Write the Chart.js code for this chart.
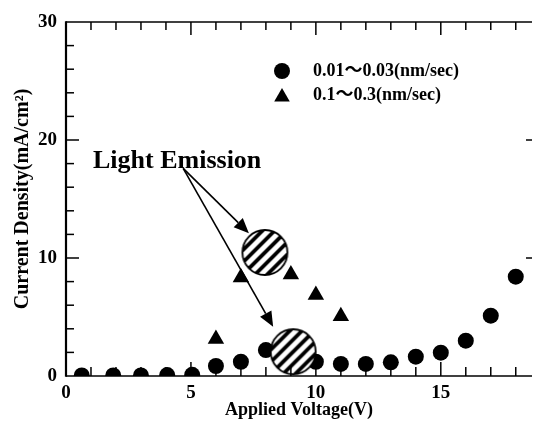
<!DOCTYPE html>
<html><head><meta charset="utf-8">
<script src="https://cdn.jsdelivr.net/npm/chart.js@4/dist/chart.umd.min.js"></script>
<style>html,body{margin:0;padding:0;background:#fff;overflow:hidden}#wrap{width:533px;height:423px}</style>
</head><body><div id="wrap"><canvas id="c" width="533" height="423"></canvas></div>
<script>
// ---- data ----
const voltageLow = [0.63, 1.89, 3.0, 4.05, 5.05, 6, 7, 8, 9, 10, 11, 12, 13, 14, 15, 16, 17, 18];
const densityLow = [0.05, 0.05, 0.04, 0.08, 0.1, 0.85, 1.21, 2.2, 1.6, 1.21, 1.02, 1.02, 1.16, 1.64, 1.98, 2.99, 5.11, 8.42];
const voltageHigh = [6, 7, 8, 9, 10, 11];
const densityHigh = [3.13, 8.34, 10.0, 8.6, 6.86, 5.06];
const emissionVoltage = [7.96, 9.09];
const emissionDensity = [10.47, 2.06];
const seriesLabels = ['0.01\uFF5E0.03(nm/sec)', '0.1\uFF5E0.3(nm/sec)'];
const xTickValues = [0, 5, 10, 15];
const yTickValues = [0, 10, 20, 30];
const xTitle = 'Applied Voltage(V)';
const yTitle = 'Current Density(mA/cm\u00B2)';
const annotationText = 'Light Emission';
const annotationTextAt = {x: 1.08, y: 17.6};
const arrowFrom = {x: 4.69, y: 17.6};
const arrowTips = [{x: 7.32, y: 12.1}, {x: 8.29, y: 4.18}];

const SERIF = "'Liberation Serif','DejaVu Serif','Noto Sans CJK JP',serif";

function makeHatch(r) {
  const s = Math.ceil(2 * r + 4);
  const c = document.createElement('canvas');
  c.width = s; c.height = s;
  const g = c.getContext('2d');
  const m = s / 2;
  g.beginPath(); g.arc(m, m, r, 0, Math.PI * 2); g.fillStyle = '#fff'; g.fill();
  g.save(); g.clip();
  g.strokeStyle = '#000'; g.lineWidth = 3.8;
  for (let k = -4; k <= 4; k++) {
    const off = k * 8.6;
    const cx = m + off / Math.SQRT2, cy = m + off / Math.SQRT2;
    g.beginPath(); g.moveTo(cx - 40, cy + 40); g.lineTo(cx + 40, cy - 40); g.stroke();
  }
  g.restore();
  g.beginPath(); g.arc(m, m, r, 0, Math.PI * 2); g.lineWidth = 1.8; g.strokeStyle = '#000'; g.stroke();
  return c;
}
const hatch = makeHatch(22.5);

const toPts = (xs, ys) => xs.map((v, i) => ({x: v, y: ys[i]}));

const decor = {
  id: 'decor',
  afterDatasetsDraw(chart) {
    const ctx = chart.ctx, xs = chart.scales.x, ys = chart.scales.y, a = chart.chartArea;
    ctx.save();
    ctx.strokeStyle = '#000'; ctx.fillStyle = '#000';
    const line = (x1, y1, x2, y2, w) => { ctx.lineWidth = w; ctx.beginPath(); ctx.moveTo(x1, y1); ctx.lineTo(x2, y2); ctx.stroke(); };
    // frame
    line(a.left, a.top, a.right, a.top, 1.5);
    line(a.left, a.bottom, a.right, a.bottom, 1.6);
    line(a.left, a.top - 0.7, a.left, a.bottom + 0.8, 2.2);
    // x ticks (top and bottom), inward
    for (let v = 1; v <= xs.max; v++) {
      const px = xs.getPixelForValue(v); const maj = v % 5 === 0;
      line(px, a.bottom, px, a.bottom - (maj ? 14 : 9), 1.5);
      line(px, a.top, px, a.top + (maj ? 13 : 8), 1.5);
    }
    // y ticks left, inward
    for (let v = 2; v < ys.max; v += 2) {
      const py = ys.getPixelForValue(v); const maj = v % 10 === 0;
      line(a.left, py, a.left + (maj ? 13 : 8), py, 1.5);
    }
    // right ticks
    [10, 20].forEach(v => { const py = ys.getPixelForValue(v); line(a.right, py, a.right - 6, py, 1.5); });

    // legend
    const lx = a.left + 216, ly = [a.top + 49, a.top + 73];
    Chart.helpers.drawPoint(ctx, {pointStyle: 'circle', radius: 8, rotation: 0, borderWidth: 0}, lx, ly[0]);
    Chart.helpers.drawPoint(ctx, {pointStyle: 'triangle', radius: 9, rotation: 0, borderWidth: 0}, lx, ly[1] + 2);
    ctx.font = "bold 18px " + SERIF; ctx.textBaseline = 'middle'; ctx.textAlign = 'left';
    ctx.fillText(seriesLabels[0], lx + 31, ly[0]);
    ctx.fillText(seriesLabels[1], lx + 31, ly[1]);

    // annotation
    ctx.font = "bold 26px " + SERIF; ctx.textBaseline = 'alphabetic';
    ctx.fillText(annotationText, xs.getPixelForValue(annotationTextAt.x), ys.getPixelForValue(annotationTextAt.y));
    const fx = xs.getPixelForValue(arrowFrom.x), fy = ys.getPixelForValue(arrowFrom.y);
    arrowTips.forEach(t => {
      const tx = xs.getPixelForValue(t.x), ty = ys.getPixelForValue(t.y);
      const ang = Math.atan2(ty - fy, tx - fx);
      const L = 15, W = 6.5;
      const bx = tx - L * Math.cos(ang), by = ty - L * Math.sin(ang);
      line(fx, fy, bx, by, 1.6);
      ctx.beginPath();
      ctx.moveTo(tx, ty);
      ctx.lineTo(bx + W * Math.sin(ang), by - W * Math.cos(ang));
      ctx.lineTo(bx - W * Math.sin(ang), by + W * Math.cos(ang));
      ctx.closePath(); ctx.fill();
    });
    ctx.restore();
  }
};

new Chart(document.getElementById('c'), {
  type: 'scatter',
  data: {
    datasets: [
      {label: 'Light Emission', data: toPts(emissionVoltage, emissionDensity), pointStyle: hatch, pointRadius: 23, pointHoverRadius: 23, order: 0, clip: false},
      {label: seriesLabels[0], data: toPts(voltageLow, densityLow), pointStyle: 'circle', pointRadius: 8, pointHoverRadius: 8, backgroundColor: '#000', borderWidth: 0, order: 2, clip: 0},
      {label: seriesLabels[1], data: toPts(voltageHigh, densityHigh), pointStyle: 'triangle', pointRadius: 9.5, pointHoverRadius: 9.5, backgroundColor: '#000', borderWidth: 0, order: 1, clip: 0}
    ]
  },
  options: {
    responsive: false, animation: false, devicePixelRatio: 1,
    layout: {autoPadding: false, padding: {top: 22, right: 1, left: 0, bottom: 0}},
    plugins: {legend: {display: false}, tooltip: {enabled: false}},
    scales: {
      x: {
        type: 'linear', min: 0, max: 18.65,
        afterBuildTicks: s => { s.ticks = xTickValues.map(v => ({value: v})); },
        afterFit: s => { s.height = 47; s.paddingRight = 0; s.paddingLeft = 0; },
        grid: {display: false, drawTicks: false}, border: {display: false},
        ticks: {color: '#000', padding: 6, maxRotation: 0, autoSkip: false, font: {family: SERIF, weight: 'bold', size: 19}},
        title: {display: true, text: xTitle, color: '#000', font: {family: SERIF, weight: 'bold', size: 18}, padding: {top: 0, bottom: 2}}
      },
      y: {
        type: 'linear', min: 0, max: 30,
        afterBuildTicks: s => { s.ticks = yTickValues.map(v => ({value: v})); },
        afterFit: s => { s.width = 66; },
        grid: {display: false, drawTicks: false}, border: {display: false},
        ticks: {color: '#000', padding: 9, font: {family: SERIF, weight: 'bold', size: 19}},
        title: {display: true, text: yTitle, color: '#000', font: {family: SERIF, weight: 'bold', size: 20}, padding: {top: 11, bottom: 0}}
      }
    }
  },
  plugins: [decor]
});
</script></body></html>
